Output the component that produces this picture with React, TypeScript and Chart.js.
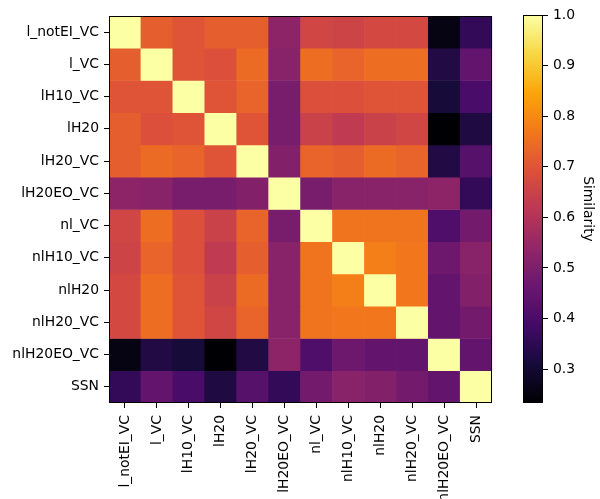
import React, { useEffect, useRef } from "react";
import { Chart, registerables } from "chart.js";

Chart.register(...registerables);

const labels = [
  "l_notEI_VC", "l_VC", "lH10_VC", "lH20", "lH20_VC", "lH20EO_VC",
  "nl_VC", "nlH10_VC", "nlH20", "nlH20_VC", "nlH20EO_VC", "SSN",
];

const row_l_notEI_VC = [1.0, 0.72, 0.70, 0.72, 0.72, 0.53, 0.66, 0.655, 0.67, 0.67, 0.255, 0.36];
const row_l_VC = [0.72, 1.0, 0.70, 0.69, 0.745, 0.52, 0.75, 0.73, 0.75, 0.75, 0.33, 0.45];
const row_lH10_VC = [0.70, 0.70, 1.0, 0.70, 0.73, 0.49, 0.69, 0.69, 0.70, 0.70, 0.31, 0.40];
const row_lH20 = [0.72, 0.69, 0.70, 1.0, 0.70, 0.49, 0.65, 0.625, 0.65, 0.66, 0.233, 0.325];
const row_lH20_VC = [0.72, 0.745, 0.73, 0.70, 1.0, 0.51, 0.73, 0.72, 0.745, 0.73, 0.33, 0.425];
const row_lH20EO_VC = [0.53, 0.52, 0.49, 0.49, 0.51, 1.0, 0.49, 0.52, 0.52, 0.52, 0.53, 0.36];
const row_nl_VC = [0.66, 0.75, 0.69, 0.65, 0.73, 0.49, 1.0, 0.76, 0.76, 0.76, 0.41, 0.48];
const row_nlH10_VC = [0.655, 0.73, 0.69, 0.625, 0.72, 0.52, 0.76, 1.0, 0.78, 0.765, 0.47, 0.52];
const row_nlH20 = [0.67, 0.75, 0.70, 0.65, 0.745, 0.52, 0.76, 0.78, 1.0, 0.765, 0.45, 0.51];
const row_nlH20_VC = [0.67, 0.75, 0.70, 0.66, 0.73, 0.52, 0.76, 0.765, 0.765, 1.0, 0.45, 0.48];
const row_nlH20EO_VC = [0.255, 0.33, 0.31, 0.233, 0.33, 0.53, 0.41, 0.47, 0.45, 0.45, 1.0, 0.45];
const row_SSN = [0.36, 0.45, 0.40, 0.325, 0.425, 0.36, 0.48, 0.52, 0.51, 0.48, 0.45, 1.0];

const matrix = [
  row_l_notEI_VC, row_l_VC, row_lH10_VC, row_lH20, row_lH20_VC, row_lH20EO_VC,
  row_nl_VC, row_nlH10_VC, row_nlH20, row_nlH20_VC, row_nlH20EO_VC, row_SSN,
];

const colorbarTicks = [0.3, 0.4, 0.5, 0.6, 0.7, 0.8, 0.9, 1.0];

const INFERNO = [
  "#000004", "#160b39", "#420a68", "#6a176e", "#932667", "#bc3754",
  "#dd513a", "#f37819", "#fca50a", "#f6d746", "#fcffa4",
];

function hexToRgb(h: string) {
  return [parseInt(h.slice(1, 3), 16), parseInt(h.slice(3, 5), 16), parseInt(h.slice(5, 7), 16)];
}

function inferno(t: number) {
  const c = Math.max(0, Math.min(1, t)) * (INFERNO.length - 1);
  const i = Math.min(INFERNO.length - 2, Math.floor(c));
  const f = c - i;
  const a = hexToRgb(INFERNO[i]);
  const b = hexToRgb(INFERNO[i + 1]);
  const r = a.map((v, k) => Math.round(v + (b[k] - v) * f));
  return `rgb(${r[0]},${r[1]},${r[2]})`;
}

const allVals = matrix.flat();
const vmin = Math.min(...allVals);
const vmax = Math.max(...allVals);

const FONT = { family: "DejaVu Sans", size: 13.9 };

const framePlugin = {
  id: "frame",
  afterDraw(chart: any) {
    const a = chart.chartArea;
    const ctx = chart.ctx;
    ctx.save();
    ctx.strokeStyle = "#000";
    ctx.lineWidth = 1;
    ctx.strokeRect(Math.round(a.left) + 0.5, Math.round(a.top) + 0.5, Math.round(a.right - a.left) - 1, Math.round(a.bottom - a.top) - 1);
    ctx.restore();
  },
};

export default function App() {
  const mainRef = useRef<HTMLCanvasElement>(null);
  const cbRef = useRef<HTMLCanvasElement>(null);

  useEffect(() => {
    const datasets = matrix.map((row, r) => ({
      label: labels[r],
      data: row.map(() => [r, r + 1]),
      backgroundColor: row.map((v) => inferno((v - vmin) / (vmax - vmin))),
      borderWidth: 0,
      grouped: false,
      barPercentage: 1,
      categoryPercentage: 1,
    }));

    const main = new Chart(mainRef.current!, {
      type: "bar",
      data: { labels, datasets: datasets as any },
      options: {
        responsive: false,
        animation: false,
        devicePixelRatio: 1,
        layout: { padding: { left: 0, top: 16, right: 2.5, bottom: 0 } },
        plugins: { legend: { display: false }, tooltip: { enabled: false } },
        scales: {
          x: {
            type: "category",
            offset: true,
            grid: { display: true, drawOnChartArea: false, drawTicks: true, tickLength: 5, color: "#000", tickColor: "#000", offset: false },
            border: { display: false },
            ticks: { autoSkip: false, maxRotation: 90, minRotation: 90, padding: 7, color: "#000", font: FONT },
            afterFit: (s: any) => { s.height = 96; },
          },
          y: {
            type: "linear",
            reverse: true,
            min: 0,
            max: labels.length,
            grid: { display: true, drawOnChartArea: false, drawTicks: true, tickLength: 5, color: "#000", tickColor: "#000" },
            border: { display: false },
            ticks: {
              autoSkip: false,
              padding: 5,
              color: "#000",
              font: FONT,
              callback: (v: any) => labels[Math.round(Number(v) - 0.5)] ?? "",
            },
            afterBuildTicks: (s: any) => { s.ticks = labels.map((_, i) => ({ value: i + 0.5 })); },
            afterFit: (s: any) => { s.width = 109; },
          },
        },
      },
      plugins: [framePlugin],
    });

    const cb = new Chart(cbRef.current!, {
      type: "bar",
      data: {
        labels: [""],
        datasets: [{
          data: [[vmin, vmax]] as any,
          borderWidth: 0,
          barPercentage: 1,
          categoryPercentage: 1,
          backgroundColor: (c: any) => {
            const a = c.chart.chartArea;
            if (!a) return "#000";
            const g = c.chart.ctx.createLinearGradient(0, a.bottom, 0, a.top);
            INFERNO.forEach((h, i) => g.addColorStop(i / (INFERNO.length - 1), h));
            return g;
          },
        }],
      },
      options: {
        responsive: false,
        animation: false,
        devicePixelRatio: 1,
        layout: { padding: { left: 23, top: 15, right: 0, bottom: 96 } },
        plugins: { legend: { display: false }, tooltip: { enabled: false } },
        scales: {
          x: { display: false },
          y: {
            type: "linear",
            position: "right",
            min: vmin,
            max: vmax,
            grid: { display: true, drawOnChartArea: false, drawTicks: true, tickLength: 5, color: "#000", tickColor: "#000" },
            border: { display: false },
            ticks: {
              padding: 5,
              color: "#000",
              font: FONT,
              callback: (v: any) => Number(v).toFixed(1),
            },
            afterBuildTicks: (s: any) => { s.ticks = colorbarTicks.map((v) => ({ value: v })); },
            title: { display: true, text: "Similarity", color: "#000", font: FONT, padding: { top: 4, bottom: 2 } },
            afterFit: (s: any) => { s.width = 57; },
          },
        },
      },
      plugins: [framePlugin],
    });

    return () => { main.destroy(); cb.destroy(); };
  }, []);

  return (
    <div style={{ position: "absolute", left: 0, top: 0, width: 600, height: 499, background: "#fff" }}>
      <canvas ref={mainRef} width={500} height={499} style={{ position: "absolute", left: 0, top: 0, width: 500, height: 499 }} />
      <canvas ref={cbRef} width={100} height={499} style={{ position: "absolute", left: 500, top: 0, width: 100, height: 499 }} />
    </div>
  );
}
